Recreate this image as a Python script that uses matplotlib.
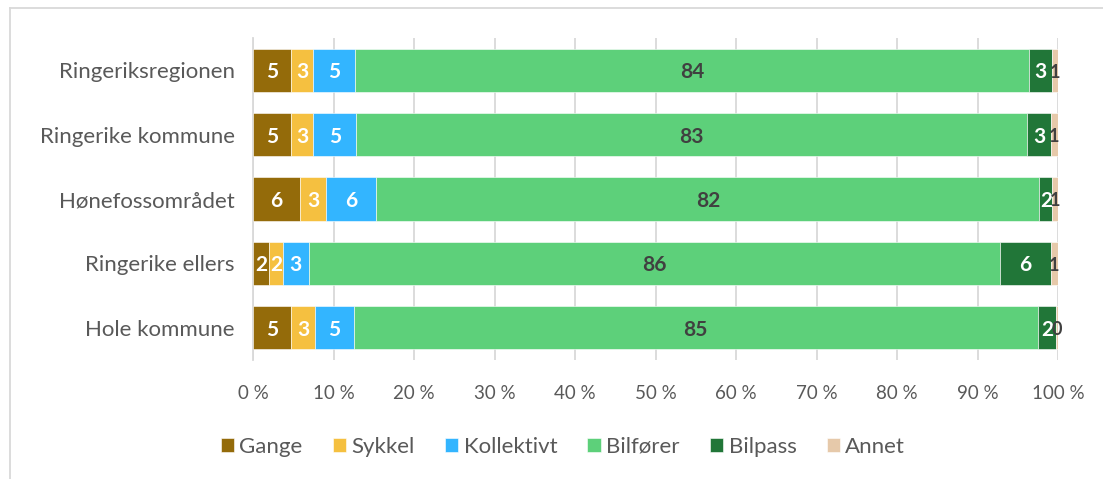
import matplotlib
matplotlib.use("Agg")
import matplotlib.pyplot as plt
from matplotlib.lines import Line2D
import numpy as np

plt.rcParams['font.family'] = ['Lato', 'DejaVu Sans']

# data
regions = ["Ringeriksregionen", "Ringerike kommune", "Hønefossområdet",
           "Ringerike ellers", "Hole kommune"]
modes = ["Gange", "Sykkel", "Kollektivt", "Bilfører", "Bilpass", "Annet"]
gange = [4.7, 4.7, 5.8, 2.0, 4.7]
sykkel = [2.8, 2.8, 3.3, 1.7, 3.0]
kollektivt = [5.2, 5.3, 6.2, 3.2, 4.8]
bilforer = [83.7, 83.4, 82.4, 85.9, 85.0]
bilpass = [2.9, 2.9, 1.6, 6.3, 2.3]
annet = [0.7, 0.9, 0.7, 0.9, 0.2]
ticks = [0, 10, 20, 30, 40, 50, 60, 70, 80, 90, 100]

colors = ["#946B0A", "#F5C040", "#33B5FF", "#5DD07A", "#217638", "#E6C9AA"]
txt_colors = ["white", "white", "white", "#404040", "white", "#404040"]

series = [gange, sykkel, kollektivt, bilforer, bilpass, annet]

fig = plt.figure(figsize=(11.03, 4.79), dpi=100)
ax = fig.add_axes([0.2294, 0.2484, 0.9592 - 0.2294, 0.9207 - 0.2484])

y = np.arange(len(regions))
left = np.zeros(len(regions))
for vals, name, c, tc in zip(series, modes, colors, txt_colors):
    vals = np.array(vals)
    ax.barh(y, vals, left=left, height=0.67, color=c, label=name,
            edgecolor='white', linewidth=0.4, zorder=3)
    for i, v in enumerate(vals):
        fs = 15 if v >= 1.5 else 13
        ax.text(left[i] + v / 2, y[i] + 0.03, str(int(round(v))), ha='center', va='center',
                color=tc, fontsize=fs, fontweight='bold', zorder=4)
    left += vals

ax.set_xlim(0, 100)
ax.set_ylim(len(regions) - 0.5, -0.5)
ax.set_yticks(y)
ax.set_yticklabels(regions, fontsize=16, color='#595959')
ax.set_xticks(ticks)
ax.set_xticklabels([f"{t} %" for t in ticks], fontsize=13.5, color='#595959')
ax.tick_params(axis='both', length=0)
ax.tick_params(axis='y', pad=13)
ax.tick_params(axis='x', pad=18)
ax.grid(axis='x', color='#d9d9d9', linewidth=1.3, zorder=0)
for s in ['top', 'right', 'bottom']:
    ax.spines[s].set_visible(False)
ax.spines['left'].set_color('#d9d9d9')
ax.spines['left'].set_linewidth(1.3)

ax.legend(loc='center', bbox_to_anchor=(0.385, -0.27), ncol=6, frameon=False,
          fontsize=16, handlelength=0.6, handleheight=0.6, handletextpad=0.25,
          columnspacing=1.35, labelcolor='#595959')

# outer frame (left and top edges visible)
fig.add_artist(Line2D([9.5 / 1103, 9.5 / 1103], [0, 1 - 7.5 / 479],
                      transform=fig.transFigure, color='#d9d9d9', linewidth=1.3))
fig.add_artist(Line2D([9.5 / 1103, 1], [1 - 7.5 / 479, 1 - 7.5 / 479],
                      transform=fig.transFigure, color='#d9d9d9', linewidth=1.3))

fig.savefig("out.png", dpi=100)
